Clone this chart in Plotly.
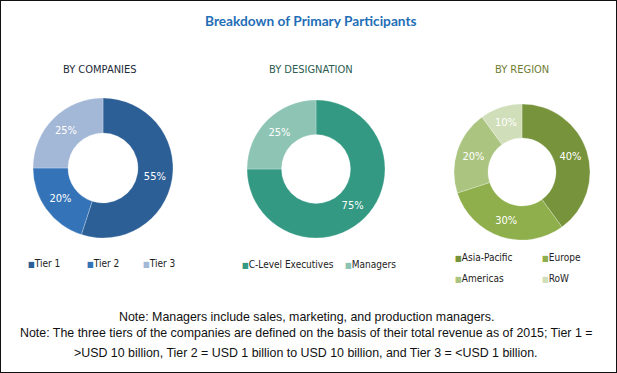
import plotly.graph_objects as go

# ---- data ----
company_labels = ["Tier 1", "Tier 2", "Tier 3"]
company_values = [55, 20, 25]
company_colors = ["#2C5F96", "#3473B7", "#A3B7D7"]

designation_labels = ["C-Level Executives", "Managers"]
designation_values = [75, 25]
designation_colors = ["#339983", "#8DC4B4"]

region_labels = ["Asia-Pacific", "Europe", "Americas", "RoW"]
region_values = [40, 30, 20, 10]
region_colors = ["#77933B", "#8EAF4B", "#ABC581", "#D0DEB9"]

title_text = "Breakdown of Primary Participants"
subtitles = ["BY COMPANIES", "BY DESIGNATION", "BY REGION"]
subtitle_colors = ["#1E2A38", "#2C5C50", "#6F7D34"]
notes = [
    "Note: Managers include sales, marketing, and production managers.",
    "Note: The three tiers of the companies are defined on the basis of their total revenue as of 2015; Tier 1 =",
    ">USD 10 billion, Tier 2 = USD 1 billion to USD 10 billion, and Tier 3 = <USD 1 billion.",
]

W, H = 617, 373
NARROW = "DejaVu Sans Condensed, Liberation Sans Narrow, Arial Narrow, sans-serif"


def px_domain(cx, cy, r):
    return dict(x=[(cx - r) / W, (cx + r) / W], y=[(H - cy - r) / H, (H - cy + r) / H])


fig = go.Figure()
pies = [
    (company_labels, company_values, company_colors, (103, 168, 70)),
    (designation_labels, designation_values, designation_colors, (316, 169, 69)),
    (region_labels, region_values, region_colors, (522, 172, 68)),
]
for labels, values, colors, (cx, cy, r) in pies:
    fig.add_trace(go.Pie(
        labels=labels, values=values, sort=False, direction="clockwise", rotation=0,
        hole=0.5, domain=px_domain(cx, cy, r),
        marker=dict(colors=colors, line=dict(color="rgba(255,255,255,0.5)", width=0.5)),
        texttemplate="%{value}%", textposition="inside", insidetextorientation="horizontal",
        textfont=dict(color="white", size=11, family=NARROW),
        showlegend=False, hoverinfo="label+value",
    ))

ann = []
# title
ann.append(dict(x=311 / W, y=1 - 20 / H, text="<b>" + title_text + "</b>", showarrow=False,
                xanchor="center", yanchor="middle",
                font=dict(family="Lato, Open Sans, sans-serif", size=13.7, color="#1F6EB6")))
# subtitles
for txt, col, xc in zip(subtitles, subtitle_colors, [100, 311, 522]):
    ann.append(dict(x=xc / W, y=1 - 69 / H, text=txt, showarrow=False, xanchor="center",
                    yanchor="middle", font=dict(family=NARROW, size=11, color=col)))


def legend_item(label, color, x, y):
    return dict(x=x / W, y=1 - y / H, xanchor="left", yanchor="middle", showarrow=False,
                text=f"<span style='color:{color};font-size:8px'>■</span>{label}",
                font=dict(family=NARROW, size=10, color="#222222"))


for lab, col, x in zip(company_labels, company_colors, [26, 85, 141]):
    ann.append(legend_item(lab, col, x, 263))
for lab, col, x in zip(designation_labels, designation_colors, [240, 343]):
    ann.append(legend_item(lab, col, x, 264))
for lab, col, (x, y) in zip(region_labels, region_colors, [(453, 257), (540, 257), (453, 278), (540, 278)]):
    ann.append(legend_item(lab, col, x, y))

# notes
for txt, y in zip(notes, [317, 333, 353]):
    ann.append(dict(x=306 / W, y=1 - y / H, text=txt, showarrow=False, xanchor="center",
                    yanchor="middle", font=dict(family="Liberation Sans, Arial, sans-serif",
                                                size=12.4, color="#111111")))

fig.update_layout(
    width=W, height=H, margin=dict(l=0, r=0, t=0, b=0),
    paper_bgcolor="white", plot_bgcolor="white",
    annotations=ann,
    shapes=[dict(type="rect", xref="paper", yref="paper", x0=0, y0=0, x1=1, y1=1,
                 line=dict(color="#111111", width=2))],
)

fig.write_html(
    "out.html",
    config={"displayModeBar": False},
    post_script="document.body.style.margin='0';document.body.style.overflow='hidden';",
)
